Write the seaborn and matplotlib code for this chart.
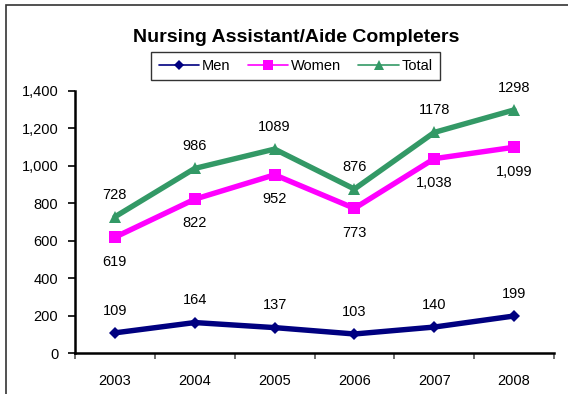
import matplotlib
matplotlib.use("Agg")
import matplotlib.pyplot as plt
import matplotlib.ticker as mticker
from matplotlib.patches import Rectangle
from matplotlib.lines import Line2D
import numpy as np
import pandas as pd
import seaborn as sns

years = ["2003", "2004", "2005", "2006", "2007", "2008"]
men = [109, 164, 137, 103, 140, 199]
women = [619, 822, 952, 773, 1038, 1099]
total = [728, 986, 1089, 876, 1178, 1298]

series_names = ["Men", "Women", "Total"]
colors = {"Men": "#000080", "Women": "#FF00FF", "Total": "#339966"}
markers = {"Men": "D", "Women": "s", "Total": "^"}
marker_sizes = {"Men": 6, "Women": 8.5, "Total": 8.5}

sns.set_style("white")
plt.rcParams["font.family"] = ["Liberation Sans", "DejaVu Sans"]
plt.rcParams["text.color"] = "black"
plt.rcParams["xtick.color"] = "black"
plt.rcParams["ytick.color"] = "black"

pos = np.arange(len(years))
df = pd.DataFrame({
    "pos": np.tile(pos, 3),
    "value": men + women + total,
    "series": np.repeat(series_names, len(years)),
})

W, H = 568, 394
fig = plt.figure(figsize=(W / 100, H / 100), dpi=100)
ax = fig.add_axes([75 / W, 1 - 353.3 / H, 479 / W, 262.5 / H])

sns.lineplot(data=df, x="pos", y="value", hue="series", style="series",
             palette=colors, markers=markers, dashes=False,
             hue_order=series_names, style_order=series_names,
             linewidth=3.9, markersize=8.5, markeredgewidth=0,
             ax=ax, legend=False)
for line, name in zip(ax.get_lines(), series_names):
    line.set_markersize(marker_sizes[name])

ax.set_xlim(-0.5, len(years) - 0.5)
ax.set_ylim(0, 1400)
ax.yaxis.set_major_locator(mticker.MultipleLocator(200))
ax.yaxis.set_major_formatter(mticker.FuncFormatter(lambda v, p: f"{int(v):,}"))
ax.xaxis.set_major_locator(mticker.FixedLocator(np.arange(len(years) + 1) - 0.5))
ax.xaxis.set_major_formatter(mticker.NullFormatter())
ax.xaxis.set_minor_locator(mticker.FixedLocator(pos))
ax.xaxis.set_minor_formatter(mticker.FixedFormatter(years))
ax.tick_params(axis="x", which="major", bottom=True, direction="out", length=4, width=1.2, color="#555555")
ax.tick_params(axis="x", which="minor", bottom=True, length=0, pad=15, labelsize=10.5, labelcolor="black")
ax.tick_params(axis="y", left=True, direction="out", length=5, width=1.2, color="black",
               labelsize=10.5, pad=7, labelcolor="black")
ax.set_xlabel("")
ax.set_ylabel("")
for side in ["top", "right"]:
    ax.spines[side].set_visible(False)
for side in ["left", "bottom"]:
    ax.spines[side].set_color("black")
    ax.spines[side].set_linewidth(1.8)

# value labels
for x, v in zip(pos, total):
    ax.annotate(f"{v}", (x, v), xytext=(0, 16), textcoords="offset points",
                ha="center", va="center", fontsize=10.5, color="black")
for x, v in zip(pos, women):
    ax.annotate(f"{v:,}", (x, v), xytext=(0, -17.5), textcoords="offset points",
                ha="center", va="center", fontsize=10.5, color="black")
for x, v in zip(pos, men):
    ax.annotate(f"{v}", (x, v), xytext=(0, 16), textcoords="offset points",
                ha="center", va="center", fontsize=10.5, color="black")

# legend
legend_marker = {"Men": 5, "Women": 7, "Total": 7}
handles = [Line2D([0], [0], color=colors[s], marker=markers[s], lw=1.2,
                  markersize=legend_marker[s], markeredgewidth=0)
           for s in series_names]
leg = fig.legend(handles, series_names, loc="center", ncol=3,
                 bbox_to_anchor=(295.5 / W, 1 - 66 / H), frameon=True,
                 fancybox=False, edgecolor="black", fontsize=10.5,
                 handlelength=2.8, handletextpad=0.15, columnspacing=1.2,
                 borderpad=0.5)
leg.get_frame().set_linewidth(1.0)
for t in leg.get_texts():
    t.set_color("black")

fig.text(296 / W, 1 - 37 / H, "Nursing Assistant/Aide Completers",
         ha="center", va="center", fontsize=14, fontweight="bold", color="black")

# outer chart frame
fig.patches.append(Rectangle((6 / W, -0.1), 1.2, 1 - 5 / H + 0.1,
                             transform=fig.transFigure, fill=False,
                             edgecolor="#333333", linewidth=1.2))

fig.savefig("out.png", dpi=100)
